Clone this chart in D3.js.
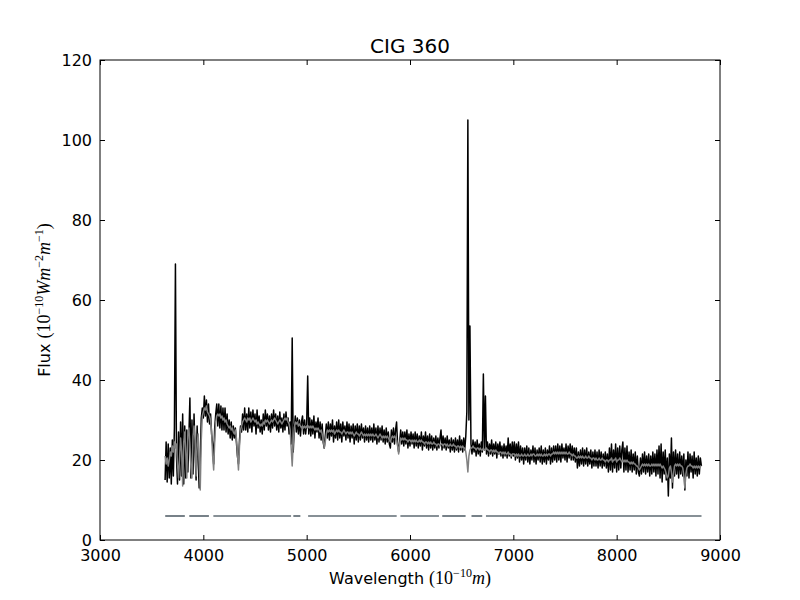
<!DOCTYPE html>
<html>
<head>
<meta charset="utf-8">
<script src="https://cdn.jsdelivr.net/npm/d3@7"></script>
<style>
  body { margin: 0; background: #fff; }
  text { font-family: "DejaVu Sans", sans-serif; fill: #000; }
  .math { font-family: "Liberation Serif", "DejaVu Serif", serif; }
</style>
</head>
<body>
<div id="chart"></div>
<script>
// wavelength grid of the spectrum (Angstrom), uniform sampling
const waveStart = 3630;
const waveStep = 10;

const observed = [
  15.0, 24.5, 14.5, 24.0, 15.5, 23.0, 14.0,
  25.0, 16.0, 28.0, 69.0, 21.0, 14.0, 27.0, 15.0, 29.5, 16.0,
  31.5, 14.0, 28.5, 15.5, 27.5, 17.0, 26.0, 35.5, 15.5, 30.0,
  16.5, 31.5, 22.0, 15.0, 28.5, 20.0, 13.0, 20.0, 30.5, 33.0,
  30.5, 36.0, 31.0, 35.0, 29.5, 34.0, 29.0, 31.5, 26.5, 24.0,
  19.0, 28.0, 31.5, 34.0, 28.5, 34.0, 28.0, 33.5, 27.5, 33.0,
  27.5, 33.0, 27.0, 31.5, 26.5, 30.0, 25.5, 29.5, 25.0, 28.5,
  25.5, 28.0, 24.5, 21.0, 19.0, 25.0, 28.5, 27.0, 31.5, 27.5,
  33.0, 27.5, 31.5, 27.0, 33.0, 28.0, 32.0, 27.0, 32.5, 28.5,
  31.5, 26.5, 32.5, 28.0, 31.0, 27.0, 30.0, 26.5, 31.5, 27.5,
  32.5, 28.5, 31.5, 27.5, 31.0, 27.0, 31.5, 28.0, 32.5, 28.5,
  31.5, 27.5, 31.0, 27.0, 32.0, 28.0, 30.5, 27.0, 31.5, 27.5,
  32.0, 28.5, 30.5, 26.5, 29.5, 24.0, 50.5, 22.0, 28.0, 31.0,
  27.0, 30.5, 26.5, 30.0, 26.0, 29.5, 31.0, 26.5, 30.0, 26.5,
  29.0, 41.0, 26.5, 30.5, 26.0, 30.0, 26.5, 31.0, 25.5, 29.5,
  27.0, 30.5, 25.5, 29.5, 25.0, 29.0, 24.5, 23.0, 26.0, 29.0,
  25.5, 29.5, 25.0, 29.0, 26.0, 30.0, 24.5, 28.5, 25.5, 29.5,
  25.0, 30.0, 25.5, 29.0, 24.5, 29.5, 26.0, 28.5, 25.0, 29.5,
  25.5, 29.0, 24.5, 28.5, 25.5, 29.0, 24.0, 28.5, 25.0, 29.0,
  24.5, 28.5, 25.0, 29.0, 25.5, 28.0, 24.5, 28.5, 25.0, 28.0,
  24.5, 28.5, 25.0, 28.0, 24.5, 29.0, 25.0, 28.0, 24.0, 28.5,
  24.5, 28.0, 25.0, 28.5, 24.5, 27.5, 24.0, 28.0, 24.5, 27.0,
  24.0, 23.0, 27.5, 24.5, 28.0, 24.0, 27.5, 29.5, 24.0, 22.0,
  24.5, 27.5, 24.0, 27.0, 23.5, 27.0, 24.0, 27.5, 23.0, 26.5,
  23.5, 27.0, 24.0, 26.5, 23.0, 27.0, 23.5, 26.5, 23.0, 26.0,
  23.5, 27.0, 22.5, 26.0, 23.5, 27.0, 23.0, 26.0, 22.5, 26.5,
  23.0, 26.0, 22.5, 25.5, 23.0, 26.0, 22.5, 25.5, 23.0, 25.5,
  27.5, 22.5, 26.0, 23.0, 25.5, 22.5, 26.0, 23.0, 25.0, 22.0,
  25.5, 22.5, 25.0, 22.0, 25.5, 22.5, 25.0, 22.0, 26.0, 22.5,
  25.0, 22.0, 25.5, 22.5, 26.0, 32.0, 105.0, 30.0, 53.5, 24.0,
  21.5, 25.0, 22.0, 24.5, 21.0, 25.0, 21.5, 24.0, 21.0, 24.5,
  22.0, 41.5, 22.5, 36.0, 21.5, 24.5, 21.0, 24.0, 21.5, 25.0,
  21.0, 24.0, 21.5, 24.5, 20.5, 24.0, 21.5, 24.5, 21.0, 23.5,
  20.5, 24.0, 21.0, 23.5, 20.5, 25.5, 21.0, 24.0, 20.5, 24.5,
  21.0, 24.5, 20.0, 24.0, 20.5, 24.5, 19.5, 23.5, 20.0, 23.0,
  19.0, 23.0, 20.0, 23.5, 19.5, 23.0, 19.0, 22.5, 20.0, 23.5,
  19.5, 23.0, 19.0, 22.5, 20.0, 23.0, 19.5, 23.5, 19.0, 22.5,
  19.5, 23.0, 19.0, 22.5, 20.0, 23.5, 19.0, 23.0, 19.5, 23.5,
  20.0, 23.5, 19.5, 24.0, 20.0, 23.5, 19.5, 24.0, 20.5, 23.0,
  20.0, 24.0, 19.5, 23.5, 20.5, 24.0, 20.0, 23.5, 20.0, 23.0,
  19.5, 23.0, 18.0, 22.0, 18.5, 22.5, 19.0, 23.0, 18.5, 22.5,
  19.0, 23.0, 18.5, 22.0, 19.0, 22.5, 18.0, 22.0, 18.5, 22.5,
  18.5, 22.0, 18.0, 22.5, 18.5, 22.0, 18.0, 21.5, 18.5, 22.0,
  18.0, 21.5, 17.0, 23.0, 17.5, 24.0, 17.0, 22.5, 18.0, 24.0,
  17.0, 23.0, 17.5, 23.5, 18.0, 22.5, 24.5, 17.0, 23.0, 17.5,
  23.5, 17.0, 22.0, 17.5, 22.5, 17.0, 21.5, 17.5, 22.0, 16.5,
  21.0, 17.0, 16.0, 20.5, 16.5, 21.5, 17.0, 22.0, 16.5, 21.0,
  17.0, 21.5, 16.0, 21.0, 16.5, 22.0, 17.0, 21.5, 16.0, 22.5,
  16.5, 23.5, 15.5, 24.0, 14.5, 22.0, 16.5, 22.5, 15.0, 20.5,
  11.0, 21.5, 15.5, 25.5, 13.0, 22.0, 16.0, 22.5, 16.5, 21.5,
  15.5, 22.0, 16.5, 21.0, 16.0, 21.5, 12.5, 20.0, 16.0, 22.0,
  15.5, 21.5, 17.0, 21.0, 15.5, 22.0, 16.5, 20.5, 16.0, 21.0,
  16.5, 20.5, 18.5
];

// fitted model flux on the same grid
const model = [
  21.0, 19.0, 20.5, 18.5, 20.0, 22.0, 21.0,
  23.5, 22.0, 24.5, 23.0, 24.0, 19.0, 15.5, 20.5, 25.5, 22.0,
  13.5, 24.5, 27.0, 22.0, 15.5, 26.0, 28.0, 24.0, 18.0, 15.5,
  26.0, 28.5, 25.0, 16.0, 24.0, 26.5, 19.0, 12.5, 25.0, 31.0,
  32.0, 33.0, 32.5, 33.5, 32.0, 31.5, 31.0, 30.0, 27.0, 21.0,
  17.5, 24.5, 29.5, 31.0, 31.5, 31.0, 31.5, 30.5, 31.0, 30.0,
  30.5, 29.5, 30.0, 29.0, 28.5, 28.0, 28.5, 27.5, 28.0, 27.0,
  26.5, 27.5, 25.5, 21.5, 17.5, 23.5, 27.5, 28.5, 29.5, 30.0,
  30.5, 30.0, 29.5, 30.5, 30.0, 30.5, 29.5, 30.0, 30.5, 30.0,
  29.5, 30.0, 29.0, 29.5, 29.0, 28.5, 29.0, 28.5, 29.5, 29.0,
  30.0, 29.5, 30.0, 29.5, 29.0, 29.5, 30.0, 29.5, 30.0, 30.5,
  30.0, 29.5, 29.0, 29.5, 30.0, 29.5, 29.0, 29.5, 30.0, 30.5,
  30.0, 30.5, 29.5, 29.0, 27.5, 23.0, 18.5, 24.0, 28.0, 29.5,
  29.0, 29.5, 28.5, 29.0, 28.5, 28.0, 28.5, 28.0, 28.5, 28.0,
  28.5, 28.0, 28.5, 28.0, 28.5, 28.0, 28.5, 28.0, 27.5, 28.0,
  27.5, 28.0, 27.5, 27.0, 27.5, 26.5, 25.0, 23.0, 24.5, 26.5,
  27.5, 27.0, 27.5, 27.0, 27.5, 27.0, 27.5, 26.5, 27.0, 27.5,
  27.0, 27.5, 27.0, 27.0, 26.5, 27.0, 27.5, 27.0, 26.5, 27.0,
  27.0, 26.5, 27.0, 26.5, 27.0, 26.5, 26.0, 26.5, 27.0, 26.5,
  26.5, 26.0, 26.5, 27.0, 26.5, 26.0, 26.5, 26.0, 26.5, 26.0,
  26.5, 26.0, 26.5, 26.0, 26.5, 26.0, 26.0, 26.5, 26.0, 25.5,
  26.0, 26.5, 26.0, 25.5, 26.0, 25.5, 26.0, 25.5, 26.0, 25.5,
  25.0, 24.5, 25.5, 26.0, 25.5, 26.0, 25.5, 25.0, 23.5, 21.5,
  24.0, 25.5, 25.0, 25.5, 25.0, 25.5, 25.0, 25.0, 24.5, 25.0,
  25.0, 24.5, 25.0, 24.5, 25.0, 24.5, 25.0, 24.5, 24.5, 25.0,
  24.5, 25.0, 24.5, 24.5, 24.0, 24.5, 24.5, 24.0, 24.5, 24.0,
  24.5, 24.0, 24.0, 24.5, 24.0, 24.0, 23.5, 24.0, 24.0, 23.5,
  24.0, 24.0, 23.5, 24.0, 24.0, 23.5, 24.0, 23.5, 23.5, 24.0,
  23.5, 23.5, 24.0, 23.5, 23.5, 23.0, 23.5, 23.5, 23.0, 23.5,
  23.0, 23.5, 23.0, 23.0, 22.0, 20.0, 17.0, 21.0, 22.5, 23.0,
  23.0, 23.5, 23.0, 23.0, 22.5, 23.0, 23.0, 22.5, 23.0, 22.5,
  22.5, 23.0, 22.5, 22.5, 23.0, 22.5, 22.5, 22.0, 22.5, 22.5,
  22.0, 22.5, 22.0, 22.5, 22.0, 22.0, 21.5, 22.0, 22.0, 21.5,
  22.0, 21.5, 22.0, 21.5, 21.5, 22.0, 21.5, 21.5, 21.0, 21.5,
  21.5, 21.5, 21.0, 21.5, 21.0, 21.5, 21.0, 21.0, 21.5, 21.0,
  21.0, 21.5, 21.0, 21.0, 21.5, 21.0, 21.0, 21.5, 21.0, 21.5,
  21.5, 21.0, 21.0, 21.5, 21.0, 21.5, 21.0, 21.5, 21.0, 21.0,
  21.5, 21.0, 21.5, 21.0, 21.5, 21.5, 21.0, 21.5, 21.5, 22.0,
  21.5, 22.0, 21.5, 22.0, 21.5, 22.0, 21.5, 22.0, 21.5, 22.0,
  21.5, 22.0, 21.5, 21.5, 22.0, 21.5, 21.5, 21.0, 21.5, 21.0,
  21.0, 20.5, 20.5, 21.0, 20.5, 21.0, 20.5, 21.0, 20.5, 20.5,
  21.0, 20.5, 20.5, 21.0, 20.5, 20.5, 20.0, 20.5, 20.5, 20.0,
  20.5, 20.0, 20.0, 20.5, 20.0, 20.0, 20.5, 20.0, 20.0, 19.5,
  20.0, 20.0, 19.5, 20.0, 20.0, 20.5, 19.5, 20.0, 20.0, 20.5,
  19.5, 20.0, 20.0, 20.5, 20.0, 19.5, 20.0, 19.5, 20.0, 19.5,
  20.0, 19.5, 19.5, 19.0, 19.5, 19.0, 19.5, 19.0, 19.0, 18.5,
  18.5, 18.0, 17.5, 18.0, 18.5, 19.0, 18.5, 19.0, 18.5, 19.0,
  18.5, 19.0, 18.5, 18.5, 19.0, 18.5, 19.0, 18.5, 19.0, 18.5,
  19.0, 18.5, 19.0, 18.5, 18.0, 18.5, 18.0, 17.5, 16.5, 15.5,
  16.0, 18.0, 18.5, 17.0, 14.5, 16.5, 18.5, 19.0, 18.5, 19.0,
  18.5, 19.0, 18.5, 18.5, 18.0, 16.0, 13.0, 16.5, 18.0, 18.5,
  18.5, 19.0, 18.5, 18.5, 18.0, 18.5, 18.0, 18.5, 18.0, 18.5,
  18.0, 18.5, 18.5
];

// fitted wavelength windows (start, end) drawn as a line at flux 6
const maskWindows = [
  [3631, 3821], [3864, 4054], [4097, 4849], [4871, 4939],
  [5014, 5871], [5907, 6280], [6312, 6538], [6595, 6699],
  [6735, 8821]
];
const maskLevel = 6;

const xTicks = [3000, 4000, 5000, 6000, 7000, 8000, 9000];
const yTicks = [0, 20, 40, 60, 80, 100, 120];

const width = 800;
const height = 600;
const margin = { top: 60, right: 80, bottom: 60, left: 100 };

const svg = d3.select("#chart")
  .append("svg")
  .attr("width", width)
  .attr("height", height);

const xScale = d3.scaleLinear()
  .domain([3000, 9000])
  .range([margin.left, width - margin.right]);

const yScale = d3.scaleLinear()
  .domain([0, 120])
  .range([height - margin.bottom, margin.top]);

const toPoints = arr => arr.map((f, i) => ({ wave: waveStart + i * waveStep, flux: f }));

const line = d3.line()
  .x(d => xScale(d.wave))
  .y(d => yScale(d.flux));

svg.append("clipPath")
  .attr("id", "plot-clip")
  .append("rect")
  .attr("x", margin.left)
  .attr("y", margin.top)
  .attr("width", width - margin.left - margin.right)
  .attr("height", height - margin.top - margin.bottom);

const plot = svg.append("g").attr("clip-path", "url(#plot-clip)");

plot.append("path")
  .datum(toPoints(observed))
  .attr("fill", "none")
  .attr("stroke", "#000")
  .attr("stroke-width", 1.5)
  .attr("stroke-linejoin", "round")
  .attr("d", line);

plot.append("path")
  .datum(toPoints(model))
  .attr("fill", "none")
  .attr("stroke", "#808080")
  .attr("stroke-width", 1.5)
  .attr("stroke-linejoin", "round")
  .attr("d", line);

plot.selectAll(".mask")
  .data(maskWindows)
  .enter()
  .append("line")
  .attr("class", "mask")
  .attr("x1", d => xScale(d[0]))
  .attr("x2", d => xScale(d[1]))
  .attr("y1", yScale(maskLevel))
  .attr("y2", yScale(maskLevel))
  .attr("stroke", "#5f6b73")
  .attr("stroke-width", 1.7);

// axes: matplotlib style inward ticks on all four sides
const tickLen = 5;
const fmt = d3.format("d");
const xAxisBottom = d3.axisBottom(xScale).tickValues(xTicks).tickFormat(fmt).tickSizeInner(-tickLen).tickSizeOuter(0).tickPadding(10);
const xAxisTop = d3.axisTop(xScale).tickValues(xTicks).tickSizeInner(-tickLen).tickSizeOuter(0).tickFormat("");
const yAxisLeft = d3.axisLeft(yScale).tickValues(yTicks).tickFormat(fmt).tickSizeInner(-tickLen).tickSizeOuter(0).tickPadding(8);
const yAxisRight = d3.axisRight(yScale).tickValues(yTicks).tickSizeInner(-tickLen).tickSizeOuter(0).tickFormat("");

function styleAxis(g) {
  g.select(".domain").remove();
  g.selectAll(".tick line").attr("stroke", "#000");
  g.selectAll(".tick text")
    .style("font-family", "'DejaVu Sans', sans-serif")
    .style("font-size", "16px")
    .attr("fill", "#000");
}

svg.append("g")
  .attr("transform", `translate(0,${height - margin.bottom})`)
  .call(xAxisBottom)
  .call(styleAxis);

svg.append("g")
  .attr("transform", `translate(0,${margin.top})`)
  .call(xAxisTop)
  .call(styleAxis);

svg.append("g")
  .attr("transform", `translate(${margin.left},0)`)
  .call(yAxisLeft)
  .call(styleAxis);

svg.append("g")
  .attr("transform", `translate(${width - margin.right},0)`)
  .call(yAxisRight)
  .call(styleAxis);

svg.append("rect")
  .attr("x", margin.left)
  .attr("y", margin.top)
  .attr("width", width - margin.left - margin.right)
  .attr("height", height - margin.top - margin.bottom)
  .attr("fill", "none")
  .attr("stroke", "#000")
  .attr("stroke-width", 1);

// title
svg.append("text")
  .attr("x", (margin.left + width - margin.right) / 2)
  .attr("y", 53)
  .attr("text-anchor", "middle")
  .style("font-size", "20px")
  .text("CIG 360");

// x label
const xLabel = svg.append("text")
  .attr("x", (margin.left + width - margin.right) / 2)
  .attr("y", 584)
  .attr("text-anchor", "middle")
  .style("font-size", "16px");
xLabel.append("tspan").text("Wavelength ");
xLabel.append("tspan").attr("class", "math").style("font-size", "18px").text("(10");
xLabel.append("tspan").attr("class", "math").style("font-size", "12px").attr("dy", -7).text("\u221210");
xLabel.append("tspan").attr("class", "math").style("font-size", "18px").style("font-style", "italic").attr("dy", 7).text("m");
xLabel.append("tspan").attr("class", "math").style("font-size", "18px").text(")");

// y label
const yLabel = svg.append("text")
  .attr("transform", `translate(50,${(margin.top + height - margin.bottom) / 2}) rotate(-90)`)
  .attr("text-anchor", "middle")
  .style("font-size", "16px");
yLabel.append("tspan").text("Flux ");
yLabel.append("tspan").attr("class", "math").style("font-size", "18px").text("(10");
yLabel.append("tspan").attr("class", "math").style("font-size", "12px").attr("dy", -7).text("\u221210");
yLabel.append("tspan").attr("class", "math").style("font-size", "18px").style("font-style", "italic").attr("dy", 7).text("Wm");
yLabel.append("tspan").attr("class", "math").style("font-size", "12px").attr("dy", -7).text("\u22122");
yLabel.append("tspan").attr("class", "math").style("font-size", "18px").style("font-style", "italic").attr("dy", 7).text("m");
yLabel.append("tspan").attr("class", "math").style("font-size", "12px").attr("dy", -7).text("\u22121");
yLabel.append("tspan").attr("class", "math").style("font-size", "18px").attr("dy", 7).text(")");
</script>
</body>
</html>
